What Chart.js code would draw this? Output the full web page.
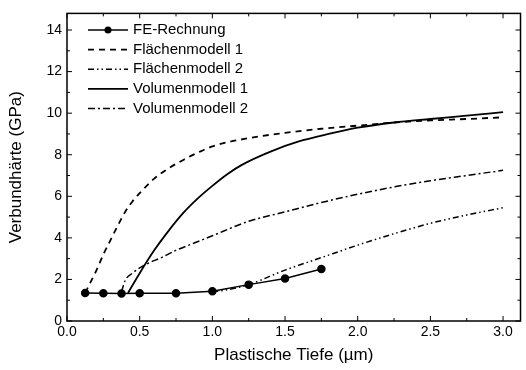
<!DOCTYPE html>
<html>
<head>
<meta charset="utf-8">
<script src="https://cdn.jsdelivr.net/npm/chart.js@4/dist/chart.umd.min.js"></script>
<style>
  html, body { margin: 0; padding: 0; background: #fff; }
  #wrap { width: 526px; height: 370px; position: relative; }
</style>
</head>
<body>
<div id="wrap"><canvas id="c"></canvas></div>
<script>
// ---- data ----
const seriesNames = ["FE-Rechnung", "Flächenmodell 1", "Flächenmodell 2", "Volumenmodell 1", "Volumenmodell 2"];

const feX = [0.125, 0.25, 0.375, 0.5, 0.75, 1.0, 1.25, 1.5, 1.75];
const feY = [1.35, 1.33, 1.32, 1.33, 1.33, 1.43, 1.75, 2.05, 2.5];

const fm1X = [0.125, 0.15, 0.2, 0.25, 0.3, 0.35, 0.4, 0.45, 0.5, 0.6, 0.7, 0.8, 0.9, 1.0, 1.25, 1.5, 1.75, 2.0, 2.25, 2.5, 2.75, 3.0];
const fm1Y = [1.35, 1.7, 2.4, 3.2, 3.9, 4.6, 5.25, 5.75, 6.15, 6.85, 7.35, 7.75, 8.1, 8.4, 8.8, 9.05, 9.25, 9.4, 9.55, 9.65, 9.72, 9.8];

const fm2X = [1.0, 1.1, 1.25, 1.5, 1.75, 2.0, 2.25, 2.5, 2.75, 3.0];
const fm2Y = [1.4, 1.5, 1.75, 2.45, 3.05, 3.65, 4.2, 4.7, 5.1, 5.45];

const vm1X = [0.42, 0.5, 0.6, 0.7, 0.8, 0.9, 1.0, 1.1, 1.2, 1.4, 1.6, 1.8, 2.0, 2.25, 2.5, 2.75, 3.0];
const vm1Y = [1.35, 2.3, 3.4, 4.35, 5.2, 5.9, 6.5, 7.05, 7.5, 8.15, 8.65, 9.0, 9.3, 9.55, 9.72, 9.88, 10.05];

const vm2X = [0.375, 0.4, 0.45, 0.55, 0.65, 0.75, 0.875, 1.0, 1.25, 1.5, 1.75, 2.0, 2.25, 2.5, 2.75, 3.0];
const vm2Y = [1.4, 1.95, 2.3, 2.75, 3.05, 3.4, 3.75, 4.1, 4.8, 5.25, 5.7, 6.1, 6.45, 6.75, 7.0, 7.25];

const xMajorTicks = [0.0, 0.5, 1.0, 1.5, 2.0, 2.5, 3.0];
const xMinorTicks = [0.25, 0.75, 1.25, 1.75, 2.25, 2.75];
const yMajorTicks = [0, 2, 4, 6, 8, 10, 12, 14];
const yMinorTicks = [1, 3, 5, 7, 9, 11, 13];

const xTitle = "Plastische Tiefe (µm)";
const yTitle = "Verbundhärte (GPa)";

// ---- build ----
const pts = (xs, ys) => xs.map((x, i) => ({ x: x, y: ys[i] }));
const FONT = "'Liberation Sans', Arial, sans-serif";

const datasets = [
  { label: seriesNames[0], data: pts(feX, feY), borderColor: '#000', backgroundColor: '#000',
    borderWidth: 1.5, pointRadius: 3.5, pointBackgroundColor: '#000', borderDash: [] },
  { label: seriesNames[1], data: pts(fm1X, fm1Y), borderColor: '#000', borderWidth: 1.8,
    pointRadius: 0, borderDash: [6, 5], cubicInterpolationMode: 'monotone' },
  { label: seriesNames[2], data: pts(fm2X, fm2Y), borderColor: '#000', borderWidth: 1.5,
    pointRadius: 0, borderDash: [6, 3, 1.5, 3, 1.5, 3], cubicInterpolationMode: 'monotone' },
  { label: seriesNames[3], data: pts(vm1X, vm1Y), borderColor: '#000', borderWidth: 1.8,
    pointRadius: 0, borderDash: [], cubicInterpolationMode: 'monotone' },
  { label: seriesNames[4], data: pts(vm2X, vm2Y), borderColor: '#000', borderWidth: 1.5,
    pointRadius: 0, borderDash: [7, 3, 2, 3], cubicInterpolationMode: 'monotone' }
];

const framePlugin = {
  id: 'frame',
  afterDraw(chart) {
    const ctx = chart.ctx;
    const a = chart.chartArea;
    const xs = chart.scales.x, ys = chart.scales.y;
    ctx.save();
    ctx.strokeStyle = '#000';
    ctx.lineWidth = 1.5;
    ctx.strokeRect(a.left, a.top, a.right - a.left, a.bottom - a.top);
    ctx.lineWidth = 1;
    const tickX = (v, len) => {
      const p = xs.getPixelForValue(v);
      ctx.beginPath();
      ctx.moveTo(p, a.bottom); ctx.lineTo(p, a.bottom - len);
      ctx.moveTo(p, a.top); ctx.lineTo(p, a.top + len);
      ctx.stroke();
    };
    const tickY = (v, len) => {
      const p = ys.getPixelForValue(v);
      ctx.beginPath();
      ctx.moveTo(a.left, p); ctx.lineTo(a.left + len, p);
      ctx.moveTo(a.right, p); ctx.lineTo(a.right - len, p);
      ctx.stroke();
    };
    xMajorTicks.forEach(v => tickX(v, 5));
    xMinorTicks.forEach(v => tickX(v, 3));
    yMajorTicks.forEach(v => tickY(v, 5));
    yMinorTicks.forEach(v => tickY(v, 3));

    // legend inside plot, top-left
    const x0 = 88, x1 = 128, tx = 133, y0 = 30, step = 19.6;
    ctx.font = '15px ' + FONT;
    ctx.textBaseline = 'middle';
    ctx.fillStyle = '#000';
    chart.data.datasets.forEach((ds, i) => {
      const y = y0 + i * step;
      ctx.setLineDash(ds.borderDash || []);
      ctx.lineWidth = ds.borderWidth;
      ctx.beginPath();
      ctx.moveTo(x0, y); ctx.lineTo(x1, y);
      ctx.stroke();
      ctx.setLineDash([]);
      if (ds.pointRadius > 0) {
        ctx.beginPath();
        ctx.arc((x0 + x1) / 2, y, ds.pointRadius, 0, Math.PI * 2);
        ctx.fill();
      }
      ctx.fillText(ds.label, tx, y);
    });
    ctx.restore();
  }
};

new Chart(document.getElementById('c'), {
  type: 'line',
  data: { datasets: datasets },
  plugins: [framePlugin],
  options: {
    responsive: true,
    maintainAspectRatio: false,
    animation: false,
    layout: { padding: { top: 10, right: 4, left: 6, bottom: 0 } },
    plugins: { legend: { display: false }, tooltip: { enabled: false } },
    scales: {
      x: {
        type: 'linear', min: 0, max: 3.12,
        afterBuildTicks: s => { s.ticks = xMajorTicks.map(v => ({ value: v })); },
        afterFit: s => { s.height = 49; },
        ticks: { includeBounds: false, color: '#000', padding: 3, maxRotation: 0,
          font: { family: FONT, size: 14 }, callback: v => Number(v).toFixed(1) },
        grid: { display: false, drawTicks: false },
        border: { display: false },
        title: { display: true, text: xTitle, color: '#000', font: { family: FONT, size: 17 },
          padding: { top: 4, bottom: 4 } }
      },
      y: {
        type: 'linear', min: 0, max: 14.8,
        afterBuildTicks: s => { s.ticks = yMajorTicks.map(v => ({ value: v })); },
        afterFit: s => { s.width = 61; },
        ticks: { includeBounds: false, color: '#000', padding: 5,
          font: { family: FONT, size: 14 }, callback: v => String(v) },
        grid: { display: false, drawTicks: false },
        border: { display: false },
        title: { display: true, text: yTitle, color: '#000', font: { family: FONT, size: 17 },
          padding: { top: 0, bottom: 4 } }
      }
    }
  }
});
</script>
</body>
</html>
